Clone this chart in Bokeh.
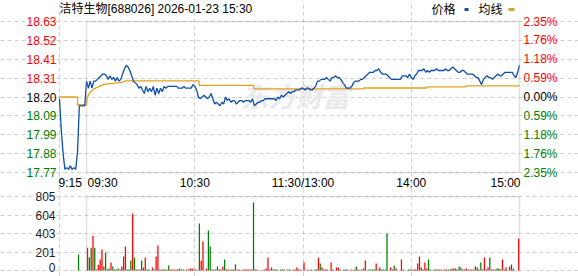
import numpy as np
from bokeh.plotting import figure
from bokeh.models import Range1d, FixedTicker, BoxAnnotation, Label
from bokeh.layouts import column
from bokeh.embed import file_html
from bokeh.resources import INLINE

# ---------------- data ----------------
title_text = "洁特生物[688026] 2026-01-23 15:30"
legend_names = ["价格", "均线"]
prev_close = 18.20
max_pct = 2.35
price_tick_labels = ["18.63", "18.52", "18.41", "18.31", "18.20", "18.09", "17.99", "17.88", "17.77"]
pct_tick_labels = ["2.35%", "1.76%", "1.18%", "0.59%", "0.00%", "0.59%", "1.18%", "1.76%", "2.35%"]
time_labels = ["9:15", "09:30", "10:30", "11:30/13:00", "14:00", "15:00"]
time_label_minutes = [0, 15, 75, 135, 195, 255]   # minutes since 9:15 (lunch break removed)
vol_max = 805
vol_tick_labels = ["805", "604", "403", "201", "0"]

# price per minute, index 0 = 9:15 ... 15 = 9:30 ... 255 = 15:00
price = [
    18.19, 18.01, 17.88, 17.79, 17.80, 17.79, 17.81, 17.79, 17.80, 17.79, 17.89, 18.15, 18.15, 18.15, 18.15,
    18.29, 18.25, 18.29, 18.25, 18.29, 18.29, 18.30, 18.31, 18.32, 18.33, 18.33, 18.32, 18.30, 18.32, 18.30, 18.31, 18.29, 18.31, 18.29, 18.30,
    18.33, 18.36, 18.38, 18.37, 18.35, 18.32, 18.29, 18.28, 18.27, 18.25, 18.26, 18.24, 18.22, 18.26, 18.23, 18.25, 18.23, 18.26, 18.21, 18.25,
    18.22, 18.25, 18.23, 18.26, 18.25, 18.26, 18.26, 18.26, 18.26, 18.26, 18.26, 18.25, 18.25, 18.25, 18.26, 18.25, 18.25, 18.25, 18.25, 18.27,
    18.26, 18.24, 18.20, 18.19, 18.20, 18.21, 18.20, 18.19, 18.20, 18.22, 18.19, 18.16, 18.17, 18.16, 18.15, 18.17, 18.16, 18.20, 18.18, 18.19,
    18.17, 18.18, 18.18, 18.16, 18.17, 18.18, 18.18, 18.17, 18.18, 18.18, 18.18, 18.17, 18.19, 18.15, 18.16, 18.17, 18.17, 18.18, 18.18, 18.19,
    18.19, 18.19, 18.19, 18.19, 18.19, 18.18, 18.20, 18.19, 18.21, 18.20, 18.21, 18.22, 18.23, 18.22, 18.23, 18.23, 18.24, 18.24, 18.24, 18.25,
    18.25, 18.24, 18.25, 18.25, 18.24, 18.24, 18.25, 18.26, 18.29, 18.29, 18.30, 18.30, 18.30, 18.31, 18.30, 18.29, 18.31, 18.31, 18.32, 18.31,
    18.31, 18.30, 18.28, 18.27, 18.25, 18.25, 18.25, 18.26, 18.28, 18.29, 18.29, 18.29, 18.30, 18.30, 18.31, 18.32, 18.33, 18.34, 18.34, 18.34,
    18.35, 18.35, 18.36, 18.34, 18.33, 18.33, 18.33, 18.32, 18.31, 18.30, 18.30, 18.30, 18.30, 18.30, 18.30, 18.32, 18.32, 18.32, 18.31, 18.33,
    18.31, 18.30, 18.32, 18.33, 18.35, 18.35, 18.35, 18.36, 18.34, 18.35, 18.34, 18.35, 18.35, 18.35, 18.36, 18.35, 18.35, 18.35, 18.35, 18.36,
    18.35, 18.35, 18.36, 18.37, 18.36, 18.35, 18.34, 18.34, 18.35, 18.35, 18.34, 18.33, 18.33, 18.33, 18.33, 18.32, 18.31, 18.31, 18.29, 18.27,
    18.30, 18.31, 18.32, 18.31, 18.31, 18.30, 18.31, 18.32, 18.33, 18.32, 18.32, 18.33, 18.34, 18.34, 18.34, 18.34, 18.34, 18.32, 18.31, 18.34, 18.38,
]

# average-price line vertices (minute, value)
avg_t = [0, 10, 10, 15, 15.2, 16.3, 19, 24.6, 34.8, 36.6, 77.3, 77.5, 107.6, 107.8, 168.5, 168.7, 203.5, 203.7, 225.1, 225.3, 254.5, 255]
avg_v = [18.200, 18.200, 18.156, 18.156, 18.190, 18.217, 18.246, 18.272, 18.283, 18.291, 18.291, 18.266, 18.266, 18.246, 18.246, 18.251,
         18.251, 18.257, 18.257, 18.263, 18.263, 18.268]

# volume per minute (minute, volume, direction u=up/red d=down/green)
vol_t = [10, 15, 16, 17, 18, 19, 20, 21, 22, 23, 24, 25, 26, 27, 28, 29, 30, 31, 32, 33, 34, 35, 36, 37, 38, 39, 40, 41, 42, 43, 44, 45,
         46, 47, 48, 49, 51, 52, 53, 54, 55, 56, 57, 58, 59, 60, 61, 62, 63, 64, 65, 66, 67, 68, 70, 71, 72, 73, 74, 75, 77, 78, 79,
         81, 82, 83, 84, 85, 86, 87, 88, 89, 90, 91, 92, 93, 94, 95, 96, 97, 98, 99, 101, 102, 103, 104, 105, 106, 107, 108, 109,
         113, 114, 115, 116, 117, 118, 119, 120, 122, 123, 124, 126, 127, 129, 130, 131, 132, 133, 135, 137, 139, 141, 142, 143,
         144, 145, 146, 147, 148, 150, 151, 153, 154, 155, 157, 158, 159, 161, 163, 164, 165, 167, 168, 169, 171, 172, 173, 174,
         175, 176, 177, 178, 179, 180, 181, 183, 184, 185, 186, 189, 190, 193, 194, 195, 196, 197, 198, 199, 200, 201, 202, 203,
         204, 205, 207, 208, 209, 210, 211, 213, 214, 215, 216, 217, 218, 219, 220, 221, 222, 223, 224, 225, 226, 227, 228, 229,
         230, 231, 232, 233, 234, 235, 236, 237, 238, 239, 240, 241, 242, 243, 244, 245, 246, 247, 249, 250, 251, 254]
vol_v = [174, 247, 141, 247, 377, 247, 11, 62, 120, 228, 44, 196, 11, 22, 87, 44, 11, 11, 22, 11, 44, 152, 261, 11, 11, 109, 620, 141, 11, 11, 11, 109,
         33, 141, 11, 11, 33, 11, 152, 272, 11, 11, 11, 11, 11, 54, 11, 11, 11, 11, 11, 22, 11, 11, 11, 11, 22, 22, 11, 11, 511, 109, 316,
         22, 435, 261, 11, 11, 11, 44, 11, 11, 44, 120, 11, 11, 11, 11, 11, 65, 11, 11, 11, 11, 11, 11, 11, 11, 740, 11, 11,
         11, 22, 141, 11, 33, 11, 11, 11, 11, 11, 11, 11, 11, 11, 11, 33, 11, 11, 87, 11, 11, 11, 11, 141,
         76, 33, 11, 11, 11, 87, 11, 33, 33, 11, 11, 11, 11, 11, 11, 44, 11, 11, 22, 109, 11, 11, 11, 11,
         76, 11, 33, 11, 11, 11, 403, 33, 11, 54, 22, 120, 11, 11, 11, 11, 11, 11, 76, 152, 33, 11, 87, 22,
         120, 11, 11, 11, 11, 11, 11, 11, 11, 11, 11, 22, 22, 22, 11, 44, 33, 11, 11, 22, 11, 11, 11, 11,
         44, 33, 11, 87, 11, 141, 11, 33, 141, 11, 11, 11, 22, 22, 11, 120, 11, 33, 44, 65, 22, 348]
vol_dir = ["d", "u", "d", "d", "u", "d", "u", "u", "u", "u", "d", "d", "u", "d", "u", "d", "u", "d", "d", "u", "u", "u", "u", "d", "d", "d", "u", "d", "u", "d", "u", "d",
           "u", "u", "d", "d", "u", "d", "u", "u", "u", "d", "u", "u", "d", "d", "u", "u", "u", "u", "d", "d", "u", "d", "u", "u", "u", "u", "u", "d", "d", "u", "u",
           "u", "d", "d", "u", "d", "u", "d", "u", "d", "u", "d", "u", "u", "d", "u", "u", "d", "u", "u", "u", "u", "u", "u", "u", "u", "d", "u", "u",
           "u", "u", "u", "u", "u", "u", "d", "d", "d", "d", "u", "d", "d", "u", "u", "u", "u", "u", "u", "u", "u", "d", "d", "u",
           "d", "u", "u", "d", "u", "u", "u", "u", "u", "d", "d", "d", "d", "u", "u", "d", "u", "u", "u", "u", "d", "d", "d", "d",
           "u", "d", "u", "d", "d", "d", "d", "u", "u", "d", "u", "u", "u", "d", "d", "u", "u", "u", "u", "u", "d", "u", "u", "u",
           "d", "d", "d", "d", "d", "u", "u", "u", "u", "d", "d", "u", "u", "d", "u", "d", "d", "u", "u", "u", "d", "u", "u", "u",
           "u", "d", "u", "d", "u", "u", "u", "u", "d", "u", "u", "u", "d", "d", "u", "u", "u", "u", "u", "u", "d", "u"]

# ---------------- style / layout ----------------
RED = "#ff0000"
GREEN = "#008000"
BLUE = "#0f4fa8"
GOLD = "#e1a21b"
GRID = "#cfcfcf"
BORDER = "#999999"
NUM_FONT = "Liberation Sans"
CJK_FONT = "Liberation Sans, Noto Sans CJK SC"

W = 578
FL, FR = 59, 519           # plotting box left/right in px
H1, T1, B1 = 190, 21, 172  # price panel height, box top/bottom
H2, T2, B2 = 86, 196, 270  # volume panel (absolute px of whole page)
n_min = 255

half = prev_close * max_pct / 100.0
ylo, yhi = prev_close - half, prev_close + half
price_tick_pos = list(np.linspace(yhi, ylo, len(price_tick_labels)))
vol_tick_pos = list(np.linspace(vol_max, 0, len(vol_tick_labels)))


def xd(px):
    return (px - FL) * n_min / (FR - FL)


def yd1(py):
    return yhi - (py - T1) * (yhi - ylo) / (B1 - T1)


def yd2(py):
    return vol_max * (B2 - py) / (B2 - T2)


common = dict(output_backend="svg", toolbar_location=None, x_axis_location=None, y_axis_location=None,
              min_border=0, min_border_left=0, min_border_right=0, min_border_top=0, min_border_bottom=0,
              outline_line_color=None, background_fill_color="white", border_fill_color="white")


def style_grid(p, xb, yb, yticks):
    p.xgrid.ticker = FixedTicker(ticks=[0, 75, 135, 195])
    p.ygrid.ticker = FixedTicker(ticks=yticks)
    p.xgrid.bounds = yb
    p.ygrid.bounds = xb
    for g in (p.xgrid, p.ygrid):
        g.grid_line_color = GRID
        g.grid_line_dash = "4 3"
        g.grid_line_width = 1


# ---------------- price panel ----------------
p1 = figure(width=W, height=H1, x_range=Range1d(xd(0), xd(W)), y_range=Range1d(yd1(H1), yd1(0)), **common)
style_grid(p1, (0, n_min), (ylo, yhi), price_tick_pos)

p1.add_layout(Label(x=xd(241), y=yd1(97), text="东方财富", text_font=CJK_FONT, text_font_size="27px",
                    text_font_style="bold italic", text_color="#e9e9ed", text_align="left",
                    text_baseline="middle", level="underlay"))

t = np.arange(len(price))
p1.line(avg_t, avg_v, line_color=GOLD, line_width=1.3)
p1.line(t, price, line_color=BLUE, line_width=1.3)

p1.add_layout(BoxAnnotation(left=15, right=n_min, top=yhi, bottom=ylo, fill_color=None,
                            line_color=BORDER, line_width=1.5))

for k, (pos, lab, pct) in enumerate(zip(price_tick_pos, price_tick_labels, pct_tick_labels)):
    col = RED if k < 4 else ("#000000" if k == 4 else GREEN)
    p1.add_layout(Label(x=xd(56), y=pos, text=lab, text_align="right", text_baseline="middle",
                        text_color=col, text_font=NUM_FONT, text_font_size="12px"))
    p1.add_layout(Label(x=xd(523), y=pos, text=pct, text_align="left", text_baseline="middle",
                        text_color=col, text_font=NUM_FONT, text_font_size="12px"))

aligns = ["left", "left", "center", "center", "center", "right"]
offs = [-1, 1, 0, 0, 0, 1]
for lab, m, al, o in zip(time_labels, time_label_minutes, aligns, offs):
    p1.add_layout(Label(x=m + xd(FL + o), y=yd1(182), text=lab, text_align=al, text_baseline="middle",
                        text_color="#000000", text_font=NUM_FONT, text_font_size="12px"))

# title and legend
p1.add_layout(Label(x=xd(59), y=yd1(8.5), text=title_text, text_align="left", text_baseline="middle",
                    text_color="#000000", text_font=CJK_FONT, text_font_size="12px"))
p1.add_layout(Label(x=xd(431), y=yd1(9), text=legend_names[0], text_align="left", text_baseline="middle",
                    text_color="#000000", text_font=CJK_FONT, text_font_size="12px"))
p1.add_layout(Label(x=xd(478), y=yd1(9), text=legend_names[1], text_align="left", text_baseline="middle",
                    text_color="#000000", text_font=CJK_FONT, text_font_size="12px"))
p1.add_layout(BoxAnnotation(left=xd(464), right=xd(468), top=yd1(7.5), bottom=yd1(10.5),
                            fill_color=BLUE, fill_alpha=1, line_color=None))
p1.add_layout(BoxAnnotation(left=xd(508), right=xd(514), top=yd1(7.5), bottom=yd1(10.5),
                            fill_color=GOLD, fill_alpha=1, line_color=None))

# ---------------- volume panel ----------------
p2 = figure(width=W, height=H2, x_range=Range1d(xd(0), xd(W)),
            y_range=Range1d(yd2(H1 + H2), yd2(H1)), **common)
style_grid(p2, (0, n_min), (0, vol_max), vol_tick_pos)

vx = np.array(vol_t) + 0.55
vcol = [RED if d == "u" else GREEN for d in vol_dir]
p2.vbar(x=vx, width=0.7, top=vol_v, bottom=0, fill_color=vcol, line_color=None)

p2.add_layout(BoxAnnotation(left=15, right=n_min, top=vol_max, bottom=0, fill_color=None,
                            line_color=BORDER, line_width=1.5))

vol_label_shift = yd2(B2 - 3)  # keep the bottom label inside the page
for pos, lab in zip(vol_tick_pos, vol_tick_labels):
    ypos = max(pos, vol_label_shift)
    p2.add_layout(Label(x=xd(55), y=ypos, text=lab, text_align="right", text_baseline="middle",
                        text_color="#1a1a2e", text_font=NUM_FONT, text_font_size="12px"))

layout = column(p1, p2, spacing=0)
with open("out.html", "w") as f:
    f.write(file_html(layout, INLINE, title="洁特生物"))
